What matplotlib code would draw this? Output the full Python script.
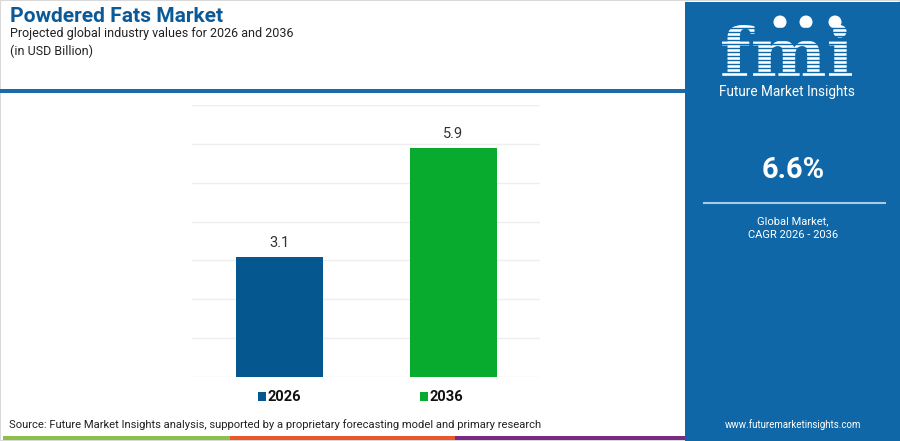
import matplotlib
matplotlib.use("Agg")
import matplotlib.pyplot as plt
from matplotlib.patches import Rectangle, Circle, PathPatch
from matplotlib.lines import Line2D
from matplotlib.textpath import TextPath
from matplotlib.font_manager import FontProperties
from matplotlib.transforms import Affine2D

categories = ["2026", "2036"]
values = [3.1, 5.9]
bar_colors = ["#04578f", "#08ab2e"]
title = "Powdered Fats Market"
subtitle = "Projected global industry values for 2026 and 2036"
unit = "(in USD Billion)"
cagr = "6.6%"
source = "Source: Future Market Insights analysis, supported by a proprietary forecasting model and primary research"

W, H = 900, 441
fig = plt.figure(figsize=(9, 4.41), dpi=100)
fig.patch.set_facecolor("white")
FONT = ["Roboto", "DejaVu Sans"]

def fx(x):
    return x / W

def fy(y):
    return 1 - y / H

# border
fig.add_artist(Rectangle((0, 0), 1, 1, transform=fig.transFigure, fill=False,
                         edgecolor="#d9d9d9", lw=1.5))
# header rule
fig.add_artist(Rectangle((0, fy(93)), fx(686), 4 / H, transform=fig.transFigure,
                         facecolor="#1b6aab", edgecolor="none"))
# bottom stripes
for x0, x1, c in [(3, 230, "#8cc04b"), (230, 455, "#e8582a"), (455, 686, "#7b2a83")]:
    fig.add_artist(Rectangle((fx(x0), fy(440)), fx(x1 - x0), 4 / H, transform=fig.transFigure,
                             facecolor=c, edgecolor="none"))

# right panel
PANEL = "#0f67a8"
fig.add_artist(Rectangle((fx(685), 0), fx(900 - 685), fy(2), transform=fig.transFigure,
                         facecolor=PANEL, edgecolor="none"))

# titles
fig.text(fx(10), fy(17), title, fontsize=15.1, fontweight="bold", color="#0b5a97",
         family=FONT, va="center", ha="left")
fig.text(fx(10), fy(34), subtitle, fontsize=9.0, color="#222222", family=FONT,
         va="center", ha="left")
fig.text(fx(10), fy(51), unit, fontsize=9.0, color="#222222", family=FONT,
         va="center", ha="left")

# axes
ax = fig.add_axes([fx(192), fy(377), fx(540 - 192), (377 - 105) / H])
x = list(range(len(categories)))
bars = ax.bar(x, values, width=0.5, color=bar_colors, zorder=3)
ax.set_xlim(-0.5, 1.5)
ax.set_ylim(0, 7)
ax.set_yticks(range(0, 8))
ax.yaxis.grid(True, color="#eeeeee", lw=1, zorder=0)
ax.set_xticks([])
ax.tick_params(left=False, labelleft=False)
for s in ax.spines.values():
    s.set_visible(False)
for xi, v in zip(x, values):
    ax.annotate(f"{v}", (xi, v), xytext=(0, 5), textcoords="offset points",
                ha="center", va="bottom", fontsize=10.5, color="#333333", family=FONT)

# legend
for lx, cat, c in [(258, categories[0], bar_colors[0]), (420, categories[1], bar_colors[1])]:
    fig.add_artist(Rectangle((fx(lx), fy(401)), fx(8), 9 / H, transform=fig.transFigure,
                             facecolor=c, edgecolor="none"))
    fig.text(fx(lx + 10), fy(397), cat, fontsize=10.5, fontweight="bold", color="#111111",
             family=FONT, va="center", ha="left")

fig.text(fx(9), fy(425), source, fontsize=8.15, color="#222222", family=FONT,
         va="center", ha="left")

# logo (drawn as a path)
tp = TextPath((0, 0), "fmi", size=60, prop=FontProperties(family="DejaVu Serif", weight="bold"))
bb = tp.get_extents()
sx = 130 / bb.width
sy = 52 / bb.height
tr = Affine2D().translate(-bb.x0, -bb.y0).scale(sx, sy).translate(722, H - 77)
fig.add_artist(PathPatch(tr.transform_path(tp), transform=None, facecolor="white",
                         edgecolor="none"))
for yy in range(28, 80, 4):
    fig.add_artist(Line2D([fx(715), fx(860)], [fy(yy), fy(yy)], transform=fig.transFigure,
                          color=PANEL, lw=1.0))
for cx in (780, 806, 835):
    fig.add_artist(Circle((cx, H - 22), 6.5, transform=None,
                          facecolor="white", edgecolor="none"))
fig.text(fx(787), fy(92), "Future Market Insights", fontsize=9.8, color="white",
         family=FONT, va="center", ha="center")

fig.text(fx(793), fy(170), cagr, fontsize=21, fontweight="bold", color="white",
         family=FONT, va="center", ha="center")
fig.add_artist(Line2D([fx(704), fx(885)], [fy(203), fy(203)], transform=fig.transFigure,
                      color="#a9cbe6", lw=1.5))
fig.text(fx(793), fy(221), "Global Market,", fontsize=8, color="white", family=FONT,
         va="center", ha="center")
fig.text(fx(793), fy(235), "CAGR 2026 - 2036", fontsize=8, color="white", family=FONT,
         va="center", ha="center")
fig.text(fx(793), fy(425), "www.futuremarketinsights.com", fontsize=7, color="white",
         family=FONT, va="center", ha="center")

fig.savefig("out.png", dpi=100)
